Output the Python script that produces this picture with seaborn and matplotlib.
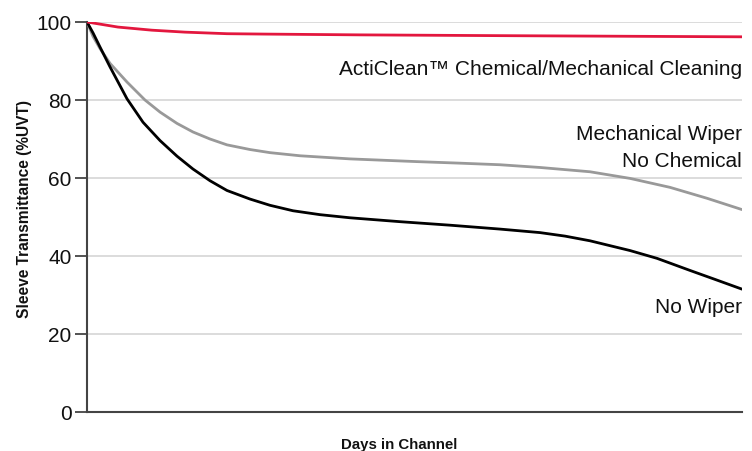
import matplotlib
matplotlib.use("Agg")
import matplotlib.pyplot as plt
import seaborn as sns
import pandas as pd

# Data (days scaled 0-100, no ticks on x)
days_red = [0, 4.73, 9.92, 14.96, 21.37, 27.18, 41.68, 63.05, 100]
acticlean = [100, 98.7, 97.9, 97.4, 97.0, 96.9, 96.7, 96.5, 96.2]

days_gray = [0, 0.92, 1.98, 3.51, 6.11, 8.85, 11.15, 13.74, 16.18, 18.78, 21.37,
             24.89, 27.94, 32.52, 40.15, 50.38, 57.0, 63.05, 69.16, 76.79, 82.9, 89.01, 94.66, 100]
mech_wiper = [100, 96.3, 93.2, 89.4, 84.6, 80.0, 76.9, 74.0, 71.8, 70.0, 68.5,
              67.3, 66.5, 65.7, 64.9, 64.2, 63.8, 63.4, 62.7, 61.6, 59.9, 57.6, 54.8, 51.9]

days_black = [0, 0.92, 1.98, 3.51, 6.11, 8.55, 11.15, 13.74, 16.18, 18.78, 21.37,
              24.89, 27.94, 31.45, 35.57, 40.15, 47.79, 55.42, 63.05, 69.16, 72.98, 76.79,
              82.9, 87.02, 92.06, 95.88, 100]
no_wiper = [100, 97.2, 93.6, 88.5, 80.3, 74.3, 69.6, 65.6, 62.3, 59.3, 56.8,
            54.6, 53.0, 51.6, 50.6, 49.8, 48.8, 47.9, 46.9, 46.0, 45.1, 43.9,
            41.4, 39.4, 36.3, 34.0, 31.5]

y_ticks = [0, 20, 40, 60, 80, 100]

sns.set_theme(style="white")
plt.rcParams['font.family'] = ['Liberation Sans', 'DejaVu Sans']

fig = plt.figure(figsize=(7.52, 4.52), dpi=100)
ax = fig.add_axes([87/752, 1-413/452, 655/752, 390/452])

for y in y_ticks[1:]:
    ax.axhline(y, color="#d6d6d6", lw=1.2, zorder=0)

df_r = pd.DataFrame({"d": days_red, "v": acticlean})
df_g = pd.DataFrame({"d": days_gray, "v": mech_wiper})
df_b = pd.DataFrame({"d": days_black, "v": no_wiper})
lkw = dict(lw=2.0, solid_joinstyle="round", solid_capstyle="round")
sns.lineplot(data=df_g, x="d", y="v", color="#999999", ax=ax, zorder=3, **lkw)
sns.lineplot(data=df_b, x="d", y="v", color="#000000", ax=ax, zorder=4, **lkw)
sns.lineplot(data=df_r, x="d", y="v", color="#e3173e", ax=ax, zorder=5, **lkw)

ax.set_xlim(0, 100)
ax.set_ylim(0, 100)
ax.set_xticks([])
ax.set_yticks(y_ticks)
ax.tick_params(axis='y', left=True, length=9, width=1.3, color="#444444",
               labelsize=15, labelcolor="#111111", pad=2)
for s in ["top", "right"]:
    ax.spines[s].set_visible(False)
for s in ["left", "bottom"]:
    ax.spines[s].set_color("#444444")
    ax.spines[s].set_linewidth(1.5)

ax.set_ylabel("Sleeve Transmittance (%UVT)", fontsize=11.2, fontweight="bold", color="#111111")
ax.yaxis.set_label_coords(-0.084, 0.523)
ax.set_xlabel("Days in Channel", fontsize=10.8, fontweight="bold", color="#111111")
ax.xaxis.set_label_coords(0.477, -0.065)

kw = dict(ha="right", va="center", fontsize=15, color="#111111")
ax.text(100, 88.2, "ActiClean™ Chemical/Mechanical Cleaning", **kw)
ax.text(100, 71.3, "Mechanical Wiper", **kw)
ax.text(100, 64.6, "No Chemical", **kw)
ax.text(100, 27.0, "No Wiper", **kw)

fig.savefig("out.png", dpi=100)
